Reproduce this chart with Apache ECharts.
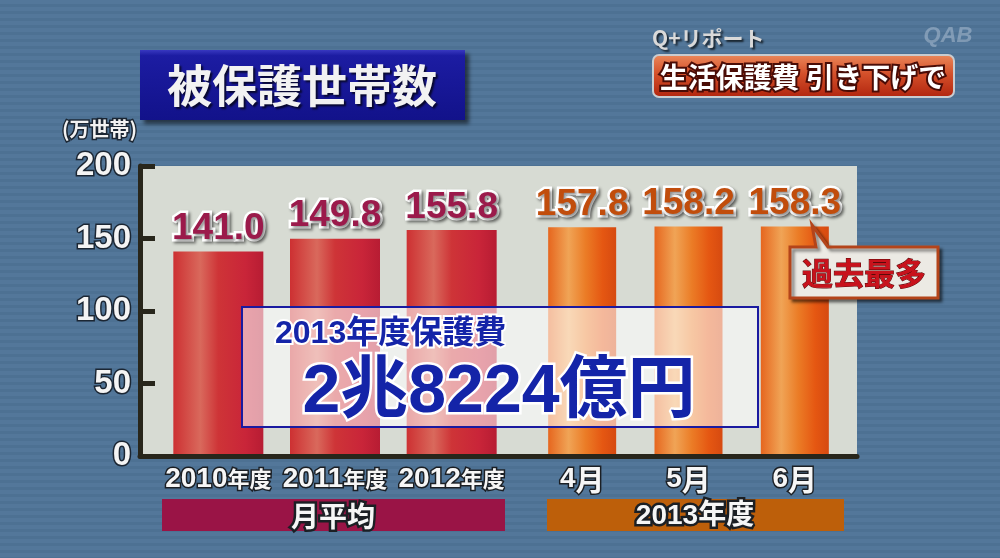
<!DOCTYPE html>
<html>
<head>
<meta charset="utf-8">
<script src="https://cdn.jsdelivr.net/npm/echarts@6/dist/echarts.min.js"></script>
<style>
html,body{margin:0;padding:0;background:#4f7393;}
#chart{width:1000px;height:558px;}
</style>
</head>
<body>
<div id="chart"></div>
<script>
// ---- data ----
const categoriesAvg = ['2010年度', '2011年度', '2012年度'];
const valuesAvg = [141.0, 149.8, 155.8];
const categories2013 = ['4月', '5月', '6月'];
const values2013 = [157.8, 158.2, 158.3];
const groupLabels = ['月平均', '2013年度'];
const yMin = 0, yMax = 200, yInterval = 50;
const yUnit = '(万世帯)';
const titleText = '被保護世帯数';
const cornerTag = 'Q+リポート';
const headline = '生活保護費 引き下げで';
const calloutText = '過去最多';
const costLabel = '2013年度保護費';
const costValue = '2兆8224億円';

// ---- style ----
const CJK = '"Noto Sans CJK JP", "Noto Sans", sans-serif';
const NUM = '"Liberation Sans", Arial, "Noto Sans CJK JP", sans-serif';

const chart = echarts.init(document.getElementById('chart'), null, {renderer: 'canvas'});

function stripes(c1, c2, h1, h2) {
  const cv = document.createElement('canvas');
  cv.width = 4; cv.height = h1 + h2;
  const ctx = cv.getContext('2d');
  ctx.fillStyle = c1; ctx.fillRect(0, 0, 4, h1);
  ctx.fillStyle = c2; ctx.fillRect(0, h1, 4, h2);
  return cv;
}

const redGrad = new echarts.graphic.LinearGradient(0, 0, 1, 0, [
  {offset: 0, color: '#cd3032'},
  {offset: 0.3, color: '#d9695c'},
  {offset: 0.5, color: '#ce3437'},
  {offset: 0.8, color: '#c92539'},
  {offset: 1, color: '#b71c33'}
]);
const orangeGrad = new echarts.graphic.LinearGradient(0, 0, 1, 0, [
  {offset: 0, color: '#e6661e'},
  {offset: 0.3, color: '#f0a456'},
  {offset: 0.55, color: '#eb7c26'},
  {offset: 0.8, color: '#e55712'},
  {offset: 1, color: '#d64a10'}
]);

const valueLabel = (color) => ({
  show: true,
  position: 'top',
  distance: 4,
  formatter: p => Number(p.value).toFixed(1),
  fontFamily: NUM,
  fontWeight: 'bold',
  fontSize: 37,
  color: color,
  textBorderColor: '#ffffff',
  textBorderWidth: 5,
  textShadowColor: 'rgba(0,0,0,0.45)',
  textShadowBlur: 3,
  textShadowOffsetX: 2,
  textShadowOffsetY: 2
});

const richBase = {color: '#f6f6f6', fontWeight: 'bold', textBorderColor: '#1b1f24', textBorderWidth: 3};
const catLabel = {
  interval: 0,
  hideOverlap: false,
  margin: 9,
  formatter: v => {
    const m = v.match(/^(\d+)(.*)$/);
    if (!m) return v;
    return m[2] === '年度' ? '{n|' + m[1] + '}{s|' + m[2] + '}' : '{n|' + m[1] + '}{m|' + m[2] + '}';
  },
  rich: {
    n: Object.assign({fontFamily: NUM, fontSize: 28}, richBase),
    s: Object.assign({fontFamily: CJK, fontSize: 22}, richBase),
    m: Object.assign({fontFamily: CJK, fontSize: 29}, richBase)
  }
};

const option = {
  backgroundColor: '#4f7393',
  animation: false,
  grid: [
    {left: 140, right: 143, top: 166, bottom: 102, show: true, backgroundColor: '#d7dbd3', borderWidth: 0},
    {left: 160, right: 490, top: 166, bottom: 102},
    {left: 529, right: 152, top: 166, bottom: 102}
  ],
  xAxis: [
    {gridIndex: 0, type: 'value', min: 0, max: 1, z: 10,
     axisLine: {show: true, lineStyle: {color: '#28261b', width: 5}},
     axisTick: {show: false}, axisLabel: {show: false}, splitLine: {show: false}},
    {gridIndex: 1, type: 'category', data: categoriesAvg,
     axisLine: {show: false}, axisTick: {show: false}, axisLabel: catLabel},
    {gridIndex: 2, type: 'category', data: categories2013,
     axisLine: {show: false}, axisTick: {show: false}, axisLabel: catLabel}
  ],
  yAxis: [
    {gridIndex: 0, type: 'value', min: yMin, max: yMax, interval: yInterval, z: 10,
     axisLine: {show: true, lineStyle: {color: '#28261b', width: 5}},
     axisTick: {show: true, inside: true, length: 15, lineStyle: {color: '#28261b', width: 5}},
     splitLine: {show: false},
     axisLabel: {fontFamily: NUM, fontWeight: 'bold', fontSize: 33, color: '#f4f4f4',
                 textBorderColor: '#1b2633', textBorderWidth: 3, margin: 9}},
    {gridIndex: 1, type: 'value', min: yMin, max: yMax, interval: yInterval, show: false},
    {gridIndex: 2, type: 'value', min: yMin, max: yMax, interval: yInterval, show: false}
  ],
  series: [
    {type: 'bar', xAxisIndex: 1, yAxisIndex: 1, data: valuesAvg, barWidth: 90,
     itemStyle: {color: redGrad}, label: valueLabel('#9b1a4b')},
    {type: 'bar', xAxisIndex: 2, yAxisIndex: 2, data: values2013, barWidth: 68,
     itemStyle: {color: orangeGrad}, label: valueLabel('#c14d0c')}
  ],
  graphic: [
    {type: 'rect', z: -100, shape: {x: 0, y: 0, width: 1000, height: 558},
     style: {fill: {image: stripes('#53779a', '#4d7193', 4, 3), repeat: 'repeat'}, opacity: 1}},
    {type: 'rect', z: 50, shape: {x: 140, y: 50, width: 325, height: 70},
     style: {fill: new echarts.graphic.LinearGradient(0, 0, 0, 1, [
       {offset: 0, color: '#3838c0'}, {offset: 0.08, color: '#1c1ca2'}, {offset: 1, color: '#12128a'}]),
       shadowColor: 'rgba(0,0,0,0.55)', shadowBlur: 4, shadowOffsetX: 4, shadowOffsetY: 4}},
    {type: 'text', z: 51, style: {text: titleText, x: 302, y: 86, align: 'center', verticalAlign: 'middle',
      fontFamily: CJK, fontWeight: 'bold', fontSize: 45, fill: '#f2f2f2',
      textShadowColor: 'rgba(0,0,0,0.7)', textShadowBlur: 2, textShadowOffsetX: 2, textShadowOffsetY: 2}},
    {type: 'text', z: 51, style: {text: yUnit, x: 137, y: 129, align: 'right', verticalAlign: 'middle',
      fontFamily: CJK, fontWeight: 'bold', fontSize: 20, fill: '#f2f2f2', stroke: '#1b2633', lineWidth: 3, strokeFirst: true}},
    {type: 'text', z: 51, style: {text: cornerTag, x: 652, y: 38, align: 'left', verticalAlign: 'middle',
      fontFamily: CJK, fontWeight: 'bold', fontSize: 21, fill: '#d9d9d9',
      textShadowColor: 'rgba(0,0,0,0.7)', textShadowBlur: 2, textShadowOffsetX: 2, textShadowOffsetY: 2}},
    {type: 'text', z: 51, style: {text: 'QAB', x: 948, y: 36, align: 'center', verticalAlign: 'middle',
      fontFamily: NUM, fontWeight: 'bold', fontStyle: 'italic', fontSize: 22, fill: 'rgba(220,230,240,0.35)'}},
    {type: 'rect', z: 50, shape: {x: 653, y: 55, width: 301, height: 42, r: 6},
     style: {fill: new echarts.graphic.LinearGradient(0, 0, 0, 1, [
       {offset: 0, color: '#ec8a5c'}, {offset: 0.45, color: '#d4502a'}, {offset: 1, color: '#b0240e'}]),
       stroke: '#c9ccd0', lineWidth: 2}},
    {type: 'text', z: 51, style: {text: headline, x: 803, y: 77, align: 'center', verticalAlign: 'middle',
      fontFamily: CJK, fontWeight: 'bold', fontSize: 28, fill: '#ffffff', stroke: '#4a0c06', lineWidth: 4, strokeFirst: true}},
    {type: 'rect', z: 50, shape: {x: 162, y: 499, width: 343, height: 32},
     style: {fill: '#9a1446'}},
    {type: 'text', z: 51, style: {text: groupLabels[0], x: 333, y: 516, align: 'center', verticalAlign: 'middle',
      fontFamily: CJK, fontWeight: 'bold', fontSize: 28, fill: '#f6f6f6', stroke: '#1b1f24', lineWidth: 5, strokeFirst: true}},
    {type: 'rect', z: 50, shape: {x: 547, y: 499, width: 297, height: 32},
     style: {fill: '#bd5f0a'}},
    {type: 'text', z: 51, style: {text: groupLabels[1], x: 695, y: 516, align: 'center', verticalAlign: 'middle',
      fontFamily: NUM, fontWeight: 'bold', fontSize: 28, fill: '#f6f6f6', stroke: '#1b1f24', lineWidth: 5, strokeFirst: true}},
    {type: 'rect', z: 100, shape: {x: 242, y: 307, width: 516, height: 120},
     style: {fill: 'rgba(255,255,255,0.58)', stroke: '#1a1aa0', lineWidth: 2}},
    {type: 'text', z: 101, style: {text: costLabel, x: 275, y: 334, align: 'left', verticalAlign: 'middle',
      fontFamily: NUM, fontWeight: 'bold', fontSize: 32, fill: '#1424a8', stroke: '#ffffff', lineWidth: 4, strokeFirst: true}},
    {type: 'text', z: 101, style: {text: costValue, x: 499, y: 393, align: 'center', verticalAlign: 'middle',
      fontFamily: NUM, fontWeight: 'bold', fontSize: 68, fill: '#1424a8', stroke: '#ffffff', lineWidth: 5, strokeFirst: true}},
    {type: 'polygon', z: 100, shape: {points: [[790, 247], [816, 247], [812, 225], [828, 247], [938, 247], [938, 298], [790, 298]]},
     style: {fill: '#eceae4', stroke: '#b4441a', lineWidth: 3,
       shadowColor: 'rgba(0,0,0,0.45)', shadowBlur: 3, shadowOffsetX: 3, shadowOffsetY: 3}},
    {type: 'text', z: 101, style: {text: calloutText, x: 864, y: 273, align: 'center', verticalAlign: 'middle',
      fontFamily: CJK, fontWeight: 'bold', fontSize: 31, fill: '#c8121c', stroke: '#5a0a0a', lineWidth: 1}}
  ]
};
chart.setOption(option);
</script>
</body>
</html>
